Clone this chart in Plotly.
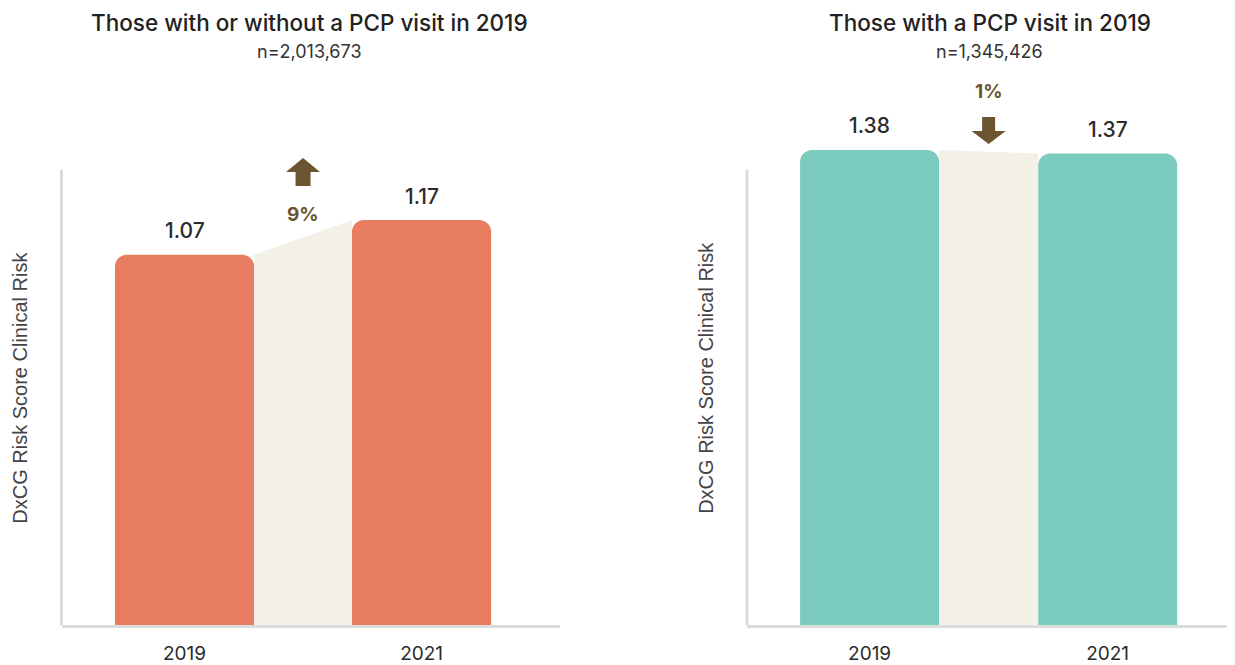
import plotly.graph_objects as go

# the page body has an 8px margin, so the figure is drawn 8px smaller
# and every reference pixel position is shifted by that offset
OFF = 8
W, H = 1235 - OFF, 665 - OFF

years = ["2019", "2021"]
left_values = [1.07, 1.17]
right_values = [1.38, 1.37]
left_change = "9%"
right_change = "1%"
left_title = "Those with or without a PCP visit in 2019"
left_n = "n=2,013,673"
right_title = "Those with a PCP visit in 2019"
right_n = "n=1,345,426"
y_title = "DxCG Risk Score Clinical Risk"

TITLE_FONT = "Inter"
AXIS_FONT = "Liberation Sans"
BROWN = "#6B5430"
GAP_FILL = "#F3F0E8"
LINE = "#D9DEDD"


def px_x(p):
    return (p - OFF) / W


def px_y(p):
    return 1 - (p - OFF) / H


panels = [
    dict(values=left_values, change=left_change, title=left_title, n=left_n,
         color="#E87C60", x="x", y="y", dom=(61.5, 560), xr=(-0.519, 1.584),
         scale=351.3, axis_top=172, ytitle_x=20, ytitle_y=393, bw=0.587),
    dict(values=right_values, change=right_change, title=right_title, n=right_n,
         color="#7BCBBF", x="x2", y="y2", dom=(747, 1235), xr=(-0.515, 1.535),
         scale=349.3, axis_top=172, ytitle_x=706, ytitle_y=383, bw=0.584),
]

plot_top, plot_bottom = 80, 634

fig = go.Figure()
annotations = []
shapes = []
layout_axes = {}

for i, p in enumerate(panels):
    vals = p["values"]
    xs = list(range(len(vals)))
    bw = p["bw"]
    # beige connector between the bars
    fig.add_trace(go.Scatter(
        x=[xs[0] + bw / 2, xs[1] - bw / 2, xs[1] - bw / 2, xs[0] + bw / 2],
        y=[vals[0], vals[1], 0, 0],
        fill="toself", fillcolor=GAP_FILL, mode="none", hoverinfo="skip",
        xaxis=p["x"], yaxis=p["y"], showlegend=False,
    ))
    fig.add_trace(go.Bar(
        x=xs, y=vals, width=bw, marker=dict(color=p["color"], line=dict(width=0)),
        xaxis=p["x"], yaxis=p["y"], showlegend=False, cliponaxis=False,
    ))

    sfx = "" if i == 0 else str(i + 1)
    yr_top = (plot_bottom - plot_top) / p["scale"]
    layout_axes["xaxis" + sfx] = dict(
        domain=[px_x(p["dom"][0]), min(1, px_x(p["dom"][1]))], range=list(p["xr"]),
        tickvals=xs, ticktext=years, showgrid=False, zeroline=False,
        showline=True, linecolor=LINE, linewidth=3, ticks="",
        ticklabelstandoff=9,
        tickfont=dict(family=TITLE_FONT, size=19, color="#2b2b2b"),
        anchor=p["y"], fixedrange=True,
    )
    layout_axes["yaxis" + sfx] = dict(
        domain=[px_y(plot_bottom), px_y(plot_top)], range=[0, yr_top],
        showgrid=False, zeroline=False, showline=False, showticklabels=False,
        anchor=p["x"], fixedrange=True,
    )
    # left axis line, stops short of the plot top
    shapes.append(dict(
        type="line", xref=p["x"] + " domain", yref=p["y"],
        x0=0, x1=0, y0=0, y1=(plot_bottom - p["axis_top"]) / p["scale"],
        line=dict(color=LINE, width=3), layer="below",
    ))

    # value labels
    for xv, v in zip(xs, vals):
        annotations.append(dict(
            x=xv, y=v, xref=p["x"], yref=p["y"], text=f"{v:.2f}", showarrow=False,
            yanchor="middle", yshift=24,
            font=dict(family=TITLE_FONT, size=21, color="#2b2b2b", weight=500),
        ))

    # change arrow + label
    top = max(vals)
    mid = (xs[0] + xs[1]) / 2
    if vals[1] >= vals[0]:
        path = "M -7.5,34 L 7.5,34 L 7.5,48 L 17,48 L 0,62 L -17,48 L -7.5,48 Z"
        text_shift = 6
    else:
        path = "M -6.5,33 L 6.5,33 L 6.5,19 L 17,19 L 0,6 L -17,19 L -6.5,19 Z"
        text_shift = 58
    shapes.append(dict(
        type="path", xref=p["x"], yref=p["y"], xsizemode="pixel", ysizemode="pixel",
        xanchor=mid, yanchor=top, path=path, fillcolor=BROWN, line=dict(width=0),
    ))
    annotations.append(dict(
        x=mid, y=top, xref=p["x"], yref=p["y"], text=p["change"], showarrow=False,
        yanchor="middle", yshift=text_shift,
        font=dict(family=TITLE_FONT, size=19, color=BROWN, weight=700),
    ))

    # titles
    cx = px_x((p["dom"][0] + p["dom"][1]) / 2 - 1.5)
    annotations.append(dict(
        x=cx, y=px_y(23), xref="paper", yref="paper", text=p["title"], showarrow=False,
        xanchor="center", yanchor="middle",
        font=dict(family=TITLE_FONT, size=22.5, color="#222222", weight=500),
    ))
    annotations.append(dict(
        x=cx, y=px_y(52), xref="paper", yref="paper", text=p["n"], showarrow=False,
        xanchor="center", yanchor="middle",
        font=dict(family=TITLE_FONT, size=18, color="#333333"),
    ))
    annotations.append(dict(
        x=px_x(p["ytitle_x"]), y=px_y(p["ytitle_y"]), xref="paper", yref="paper",
        text=y_title, showarrow=False, textangle=-90, xanchor="center", yanchor="middle",
        font=dict(family=AXIS_FONT, size=20, color="#444444"),
    ))

fig.update_layout(
    width=W, height=H, margin=dict(l=0, r=0, t=0, b=0),
    paper_bgcolor="white", plot_bgcolor="white",
    barcornerradius=12, annotations=annotations, shapes=shapes,
    **layout_axes,
)

fig.write_html("out.html")
